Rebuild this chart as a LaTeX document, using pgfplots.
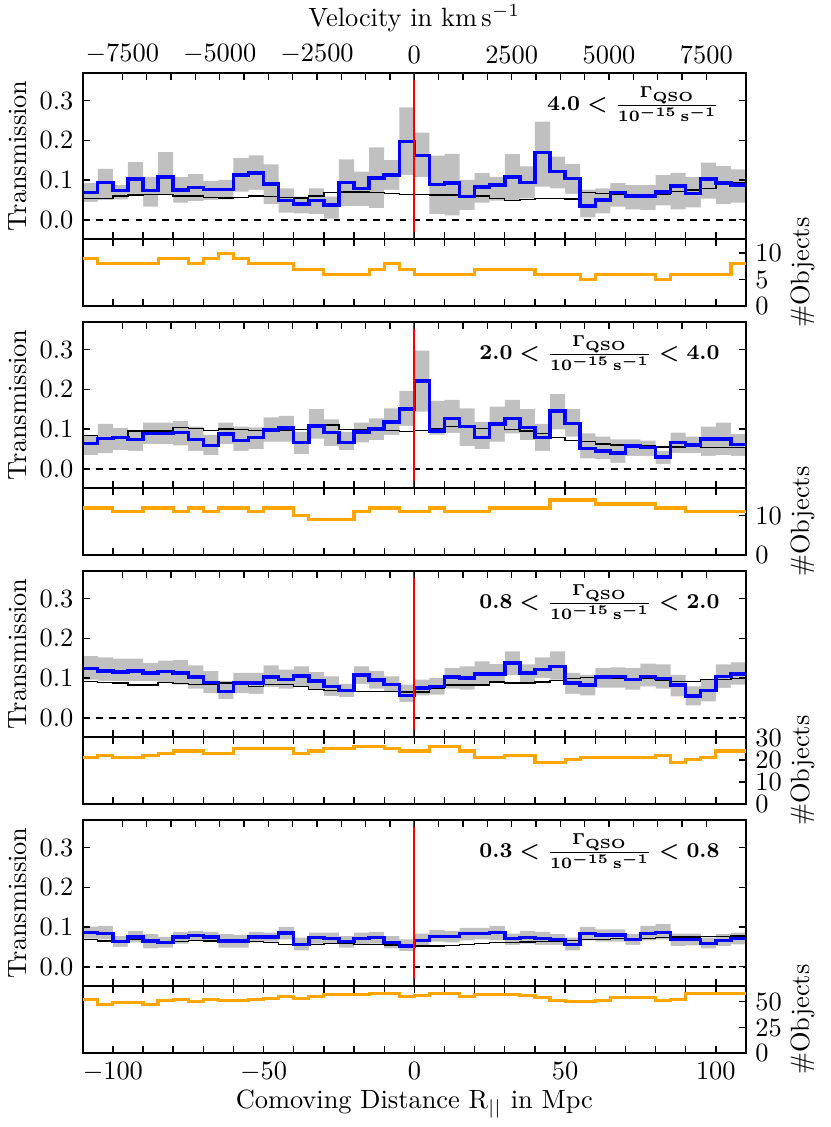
\documentclass[border=0pt]{standalone}
\usepackage{pgfplots}
\pgfplotsset{compat=1.18}
\usepackage{pgfplotstable}
\definecolor{band}{RGB}{192,192,192}
\definecolor{qblue}{RGB}{0,0,255}
\definecolor{qorange}{RGB}{255,165,0}

\pgfplotstableread{
x b lo hi m n
-110 0.068 0.045 0.092 0.054 9
-105 0.094 0.050 0.128 0.054 8
-100 0.073 0.051 0.087 0.060 8
-95 0.103 0.065 0.145 0.062 8
-90 0.073 0.033 0.108 0.063 8
-85 0.108 0.062 0.170 0.063 9
-80 0.075 0.043 0.107 0.060 9
-75 0.081 0.047 0.115 0.060 8
-70 0.076 0.050 0.097 0.056 9
-65 0.076 0.051 0.100 0.055 10
-60 0.112 0.071 0.155 0.056 9
-55 0.118 0.075 0.162 0.060 8
-50 0.090 0.039 0.139 0.058 8
-45 0.048 0.018 0.079 0.056 8
-40 0.039 0.016 0.058 0.055 7
-35 0.048 0.014 0.079 0.060 7
-30 0.037 0.003 0.058 0.068 6
-25 0.093 0.034 0.152 0.070 6
-20 0.079 0.034 0.121 0.070 6
-15 0.105 0.029 0.182 0.068 7
-10 0.112 0.075 0.150 0.066 8
-5 0.197 0.113 0.283 0.064 7
0 0.161 0.107 0.219 0.064 6
5 0.089 0.014 0.161 0.062 6
10 0.092 0.011 0.166 0.062 6
15 0.058 0.024 0.100 0.061 6
20 0.082 0.043 0.117 0.060 7
25 0.087 0.048 0.108 0.054 7
30 0.107 0.050 0.165 0.048 7
35 0.093 0.054 0.134 0.051 7
40 0.169 0.083 0.247 0.053 6
45 0.121 0.079 0.159 0.053 6
50 0.104 0.065 0.140 0.052 6
55 0.034 0.006 0.076 0.068 5
60 0.050 0.016 0.079 0.066 6
65 0.068 0.033 0.092 0.065 6
70 0.060 0.026 0.087 0.062 6
75 0.060 0.024 0.087 0.060 6
80 0.070 0.036 0.112 0.064 5
85 0.085 0.026 0.118 0.071 6
90 0.066 0.031 0.107 0.075 6
95 0.103 0.053 0.144 0.079 6
100 0.092 0.039 0.135 0.090 6
105 0.087 0.043 0.127 0.092 8
110 0.087 0.043 0.127 0.092 8
}\tabA

\pgfplotstableread{
x b lo hi m n
-110 0.064 0.034 0.085 0.083 12
-105 0.076 0.039 0.113 0.076 12
-100 0.078 0.047 0.102 0.078 11
-95 0.074 0.045 0.093 0.095 11
-90 0.089 0.062 0.116 0.095 12
-85 0.089 0.062 0.116 0.095 12
-80 0.091 0.059 0.120 0.104 11
-75 0.074 0.045 0.106 0.102 12
-70 0.058 0.034 0.085 0.097 11
-65 0.087 0.062 0.116 0.100 12
-60 0.071 0.045 0.106 0.099 12
-55 0.079 0.049 0.104 0.097 11
-50 0.097 0.068 0.129 0.097 12
-45 0.102 0.068 0.133 0.097 12
-40 0.066 0.037 0.093 0.099 10
-35 0.108 0.076 0.150 0.112 9
-30 0.091 0.057 0.124 0.110 9
-25 0.066 0.047 0.093 0.099 9
-20 0.092 0.066 0.116 0.099 11
-15 0.100 0.072 0.127 0.099 12
-10 0.118 0.085 0.152 0.097 12
-5 0.150 0.108 0.196 0.093 11
0 0.221 0.144 0.297 0.096 11
5 0.095 0.086 0.171 0.102 12
10 0.127 0.090 0.173 0.106 11
15 0.106 0.057 0.152 0.104 11
20 0.078 0.049 0.118 0.102 11
25 0.112 0.068 0.156 0.108 12
30 0.127 0.089 0.173 0.099 12
35 0.104 0.072 0.150 0.095 12
40 0.078 0.045 0.113 0.089 12
45 0.145 0.099 0.188 0.078 14
50 0.114 0.081 0.150 0.071 14
55 0.051 0.026 0.089 0.068 14
60 0.045 0.024 0.081 0.062 13
65 0.040 0.015 0.074 0.060 13
70 0.057 0.032 0.074 0.060 13
75 0.053 0.032 0.071 0.057 13
80 0.029 0.012 0.045 0.055 12
85 0.066 0.039 0.091 0.055 12
90 0.060 0.039 0.081 0.057 11
95 0.075 0.032 0.106 0.054 11
100 0.075 0.034 0.116 0.054 11
105 0.061 0.032 0.087 0.054 11
110 0.061 0.032 0.087 0.054 11
}\tabB

\pgfplotstableread{
x b lo hi m n
-110 0.124 0.096 0.155 0.092 21
-105 0.118 0.093 0.152 0.089 22
-100 0.115 0.092 0.149 0.087 21
-95 0.118 0.092 0.149 0.082 21
-90 0.113 0.092 0.138 0.082 22
-85 0.117 0.087 0.144 0.088 23
-80 0.113 0.083 0.145 0.086 24
-75 0.103 0.073 0.132 0.083 24
-70 0.089 0.062 0.117 0.083 23
-65 0.066 0.047 0.092 0.087 23
-60 0.087 0.062 0.113 0.083 25
-55 0.087 0.060 0.113 0.079 25
-50 0.103 0.077 0.132 0.083 25
-45 0.096 0.073 0.121 0.083 25
-40 0.105 0.079 0.129 0.079 23
-35 0.092 0.071 0.115 0.071 24
-30 0.079 0.055 0.104 0.069 25
-25 0.068 0.052 0.085 0.069 25
-20 0.108 0.085 0.129 0.066 26
-15 0.095 0.073 0.118 0.066 26
-10 0.083 0.065 0.104 0.066 25
-5 0.056 0.039 0.083 0.065 24
0 0.075 0.056 0.096 0.065 24
5 0.078 0.058 0.100 0.073 26
10 0.103 0.073 0.125 0.082 26
15 0.100 0.071 0.129 0.082 24
20 0.110 0.083 0.142 0.082 21
25 0.110 0.087 0.135 0.090 21
30 0.138 0.107 0.167 0.087 22
35 0.113 0.087 0.134 0.087 22
40 0.121 0.100 0.152 0.090 19
45 0.129 0.096 0.167 0.093 19
50 0.087 0.060 0.113 0.098 20
55 0.082 0.056 0.108 0.102 21
60 0.102 0.076 0.125 0.100 21
65 0.104 0.076 0.127 0.098 21
70 0.096 0.071 0.125 0.096 21
75 0.104 0.079 0.136 0.100 21
80 0.098 0.073 0.134 0.093 22
85 0.082 0.054 0.108 0.092 19
90 0.055 0.031 0.079 0.092 20
95 0.068 0.041 0.096 0.097 21
100 0.104 0.075 0.134 0.096 24
105 0.110 0.083 0.139 0.098 24
110 0.110 0.083 0.139 0.098 24
}\tabC

\pgfplotstableread{
x b lo hi m n
-110 0.086 0.071 0.101 0.069 52
-105 0.083 0.069 0.103 0.065 47
-100 0.063 0.050 0.077 0.066 49
-95 0.075 0.061 0.090 0.069 49
-90 0.065 0.046 0.082 0.065 47
-85 0.061 0.048 0.075 0.061 51
-80 0.075 0.058 0.087 0.063 52
-75 0.079 0.066 0.090 0.066 50
-70 0.075 0.063 0.088 0.065 52
-65 0.065 0.048 0.082 0.063 51
-60 0.065 0.048 0.080 0.063 51
-55 0.075 0.061 0.088 0.063 52
-50 0.075 0.063 0.086 0.061 53
-45 0.085 0.069 0.100 0.056 55
-40 0.056 0.041 0.073 0.055 53
-35 0.073 0.058 0.086 0.056 55
-30 0.071 0.058 0.086 0.059 57
-25 0.063 0.048 0.077 0.058 57
-20 0.071 0.056 0.086 0.056 57
-15 0.073 0.058 0.088 0.056 58
-10 0.061 0.046 0.077 0.055 58
-5 0.052 0.039 0.069 0.052 55
0 0.066 0.052 0.083 0.052 56
5 0.076 0.063 0.092 0.052 58
10 0.076 0.061 0.090 0.054 58
15 0.083 0.066 0.098 0.056 55
20 0.084 0.069 0.098 0.058 57
25 0.086 0.066 0.103 0.061 57
30 0.071 0.055 0.083 0.061 57
35 0.073 0.058 0.090 0.062 56
40 0.071 0.055 0.088 0.063 54
45 0.069 0.055 0.082 0.065 51
50 0.056 0.041 0.073 0.066 50
55 0.084 0.066 0.100 0.069 50
60 0.080 0.063 0.094 0.069 51
65 0.080 0.063 0.094 0.071 54
70 0.069 0.055 0.082 0.071 54
75 0.084 0.066 0.103 0.071 54
80 0.086 0.069 0.107 0.073 51
85 0.069 0.052 0.083 0.075 52
90 0.069 0.054 0.083 0.075 58
95 0.058 0.046 0.073 0.076 58
100 0.066 0.052 0.082 0.076 58
105 0.071 0.056 0.086 0.077 58
110 0.071 0.056 0.086 0.077 58
}\tabD

\pgfplotsset{
  every axis/.append style={
    tick align=inside, major tick length=2.6pt, minor tick length=2.6pt,
    axis line style={line width=0.7pt},
    tick style={black, line width=0.5pt},
    scale only axis, width=251.25pt, anchor=north west,
  },
  mainax/.style={
    height=62.9pt, xmin=-110, xmax=110, ymin=-0.048, ymax=0.37,
    axis on top,
    xtick={-100,-90,...,100}, xticklabels={}, xtick pos=left,
    ytick={0,0.1,0.2,0.3},
    yticklabel style={/pgf/number format/fixed,/pgf/number format/fixed zerofill,/pgf/number format/precision=1},
    ylabel={Transmission},
    ylabel style={at={(axis description cs:-0.0975,0.5)}, anchor=center},
  },
  velax/.style={
    height=62.9pt, xmin=-8518, xmax=8518, ymin=0, ymax=1,
    hide y axis, xtick pos=right, x axis line style={draw=none},
    xtick={-7500,-5000,...,7500}, minor xtick={-7500,-6875,...,7500},
    xticklabel style={/pgf/number format/1000 sep={}},
  },
  subax/.style={
    height=25.6pt, xmin=-110, xmax=110, ymin=0,
    ytick pos=right, yticklabel pos=right,
    yticklabel style={inner ysep=0pt},
    ylabel={\#Objects},
    ylabel style={at={(axis description cs:1.086,0.5)}, anchor=center, inner sep=0pt},
  },
}

\newcommand{\drawmain}[1]{%
  \addplot[fill=band, draw=none, const plot] table[x=x,y=hi]{#1} \closedcycle;
  \addplot[fill=white, draw=none, const plot] table[x=x,y=lo]{#1} \closedcycle;
  \addplot[black, line width=0.7pt, dash pattern=on 2.6pt off 2.4pt] coordinates {(-110,0) (110,0)};
  \addplot[black, line width=0.5pt, const plot] table[x=x,y=m]{#1};
  \addplot[qblue, line width=1.3pt, const plot] table[x=x,y=b]{#1};
  \addplot[red, line width=0.7pt] coordinates {(0,-0.048) (0,0.37)};
}
\newcommand{\drawcount}[1]{%
  \addplot[qorange, line width=1.2pt, const plot] table[x=x,y=n]{#1};
}

\begin{document}
\begin{tikzpicture}
\path[use as bounding box] (0,0) rectangle (314.4pt,-426.9pt);

% panel 1
\begin{axis}[mainax, at={(31.33pt,-27.54pt)}]
\drawmain{\tabA}
\node[anchor=east, inner sep=0pt, font=\fontsize{8.2}{9.5}\selectfont\boldmath] at (rel axis cs:0.961,0.81) {$4.0 <\frac{\Gamma_{\mathrm{QSO}}}{10^{-15}\,\mathrm{s}^{-1}}$};
\end{axis}
\begin{axis}[velax, at={(31.33pt,-27.54pt)},
  xlabel={Velocity in km\,s$^{-1}$},
  xlabel style={at={(axis description cs:0.5,1.329)}, anchor=center}]
\addplot[draw=none] coordinates {(0,0.5)};
\end{axis}
\begin{axis}[subax, at={(31.33pt,-90.44pt)}, ymax=12.7, ytick={0,5,10},
  xtick={-100,-90,...,100}, xticklabels={}]
\drawcount{\tabA}
\end{axis}

% panel 2
\begin{axis}[mainax, at={(31.33pt,-121.86pt)}]
\drawmain{\tabB}
\node[anchor=east, inner sep=0pt, font=\fontsize{8.2}{9.5}\selectfont\boldmath] at (rel axis cs:0.961,0.81) {$2.0 <\frac{\Gamma_{\mathrm{QSO}}}{10^{-15}\,\mathrm{s}^{-1}}< 4.0$};
\end{axis}
\begin{axis}[velax, at={(31.33pt,-121.86pt)}, xticklabels={}]
\addplot[draw=none] coordinates {(0,0.5)};
\end{axis}
\begin{axis}[subax, at={(31.33pt,-184.76pt)}, ymax=17.1, ytick={0,10},
  xtick={-100,-90,...,100}, xticklabels={}]
\drawcount{\tabB}
\end{axis}

% panel 3
\begin{axis}[mainax, at={(31.33pt,-216.18pt)}]
\drawmain{\tabC}
\node[anchor=east, inner sep=0pt, font=\fontsize{8.2}{9.5}\selectfont\boldmath] at (rel axis cs:0.961,0.81) {$0.8 <\frac{\Gamma_{\mathrm{QSO}}}{10^{-15}\,\mathrm{s}^{-1}}< 2.0$};
\end{axis}
\begin{axis}[velax, at={(31.33pt,-216.18pt)}, xticklabels={}]
\addplot[draw=none] coordinates {(0,0.5)};
\end{axis}
\begin{axis}[subax, at={(31.33pt,-279.08pt)}, ymax=30.4, ytick={0,10,20,30},
  xtick={-100,-90,...,100}, xticklabels={}]
\drawcount{\tabC}
\end{axis}

% panel 4
\begin{axis}[mainax, at={(31.33pt,-310.50pt)}]
\drawmain{\tabD}
\node[anchor=east, inner sep=0pt, font=\fontsize{8.2}{9.5}\selectfont\boldmath] at (rel axis cs:0.961,0.81) {$0.3 <\frac{\Gamma_{\mathrm{QSO}}}{10^{-15}\,\mathrm{s}^{-1}}< 0.8$};
\end{axis}
\begin{axis}[velax, at={(31.33pt,-310.50pt)}, xticklabels={}]
\addplot[draw=none] coordinates {(0,0.5)};
\end{axis}
\begin{axis}[subax, at={(31.33pt,-373.40pt)}, ymax=65.5, ytick={0,25,50},
  xtick={-100,-50,...,100}, minor xtick={-100,-90,...,100},
  xlabel={Comoving Distance R$_{||}$ in Mpc},
  xlabel style={at={(axis description cs:0.5,-0.754)}, anchor=center}]
\drawcount{\tabD}
\end{axis}
\end{tikzpicture}
\end{document}
